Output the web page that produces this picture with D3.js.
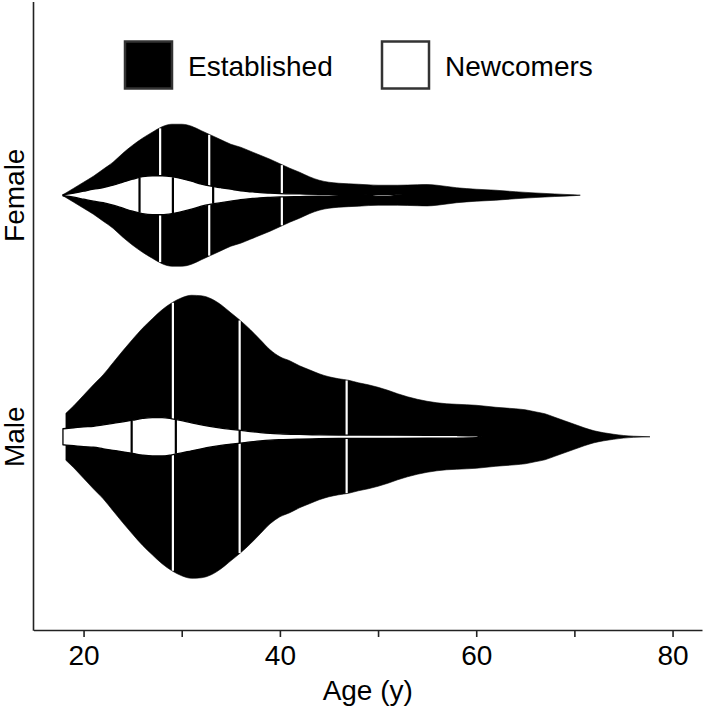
<!DOCTYPE html>
<html>
<head>
<meta charset="utf-8">
<script src="https://cdn.jsdelivr.net/npm/d3@7"></script>
<style>
  html, body { margin: 0; padding: 0; background: #fff; }
  svg { display: block; }
  text { font-family: "Liberation Sans", Arial, Helvetica, sans-serif; fill: #000; }
</style>
</head>
<body>
<svg id="chart" width="705" height="708"></svg>
<script>
// ---------------- DATA ----------------
const categories = ["Female", "Male"];
const groups = ["Established", "Newcomers"];
const xTickValues = [20, 30, 40, 50, 60, 70, 80];
const xTickLabels = ["20", "", "40", "", "60", "", "80"];

// Violin profiles: ages and half-widths (relative density units)
const femaleEstAges  = [17.9, 19, 20, 21, 22, 23, 24, 25, 26, 27, 28, 29, 30, 31, 32, 33, 34, 35, 36, 37, 38, 39, 40, 41, 42, 43, 44, 45, 46, 48, 50, 52, 54, 55, 56, 58, 60, 62, 64, 66, 68, 70, 70.6];
const femaleEstWidth = [0.5, 7, 13, 19, 26, 33, 42, 50, 57, 63, 68.5, 71, 71, 69, 64.5, 60, 55.5, 51, 48, 44, 40, 36, 31.5, 27, 23, 18.5, 15, 13, 12, 11, 10, 10, 10.5, 10.7, 10, 7.5, 6, 5, 3.5, 2.3, 1.3, 0.4, 0];

const femaleNewAges  = [17.9, 19, 20, 21, 22, 23, 24, 25, 26, 27, 28, 29, 30, 31, 32, 33, 34, 35, 36, 37, 38, 39, 40, 42, 44, 46, 48, 49, 50, 51, 52, 53];
const femaleNewWidth = [0.5, 2, 4, 6, 7.5, 10, 13, 16, 18.5, 19.5, 19.5, 18.5, 16.5, 14, 11, 9, 7.5, 6, 4.5, 3.5, 2.6, 2.1, 1.7, 1.3, 1.0, 0.6, 0.3, 0.5, 1.0, 1.0, 0.4, 0];

const maleEstAges  = [18.2, 19, 20, 21, 22, 23, 24, 25, 26, 27, 28, 29, 30, 31, 32, 33, 34, 35, 36, 37, 38, 39, 40, 41, 42, 43, 44, 45, 46, 47, 48, 49, 50, 51, 52, 53, 54, 55, 56, 57, 58, 60, 62, 64, 65, 66, 67, 68, 69, 70, 71, 72, 73, 74, 75, 76, 77.7];
const maleEstWidth = [23.5, 31, 41.5, 52, 62, 74, 86, 97.5, 108.5, 118, 127, 134, 139, 141.5, 141, 138, 132, 124, 116, 107, 97, 87, 80, 76, 71, 67, 63, 60, 58, 56.5, 54, 52, 49.5, 46.5, 43, 40, 37.5, 35.5, 34, 33, 32.5, 31.5, 29.5, 28, 27, 25, 23, 19.5, 16, 12.5, 9, 6, 4, 2.5, 1.3, 0.6, 0];

const maleNewAges  = [17.9, 19, 20, 21, 22, 23, 24, 25, 26, 27, 28, 29, 30, 31, 32, 33, 34, 35, 36, 37, 38, 39, 40, 42, 44, 46, 50, 55, 58, 60, 60.6];
const maleNewWidth = [8, 9, 10, 10.5, 12, 13.5, 15, 16.6, 18.3, 19.2, 19.2, 18, 16.2, 14, 12, 10.2, 8.7, 7.5, 6.4, 5.2, 4.2, 3.4, 2.9, 2.3, 1.9, 1.7, 1.6, 1.5, 1.3, 0.8, 0];

// Quartiles (25%, 50%, 75%)
const femaleEstQuartiles = [27.8, 32.8, 40.2];
const femaleNewQuartiles = [25.7, 29.1, 33.2];
const maleEstQuartiles   = [29.1, 35.9, 46.8];
const maleNewQuartiles   = [24.9, 29.4, 35.9];

// ---------------- CHART ----------------
const svg = d3.select("#chart");
const plotLeft = 33.5, plotRight = 702, plotTop = 2, plotBottom = 630;

const x = d3.scaleLinear().domain([14.9, 83.0]).range([plotLeft, plotRight]);
const y = d3.scalePoint().domain(categories).range([plotTop, plotBottom]).padding(0.8);
const w = d3.scaleLinear().domain([0, 141.5]).range([0, 141.5]);

const violins = [
  { cat: "Female", group: "Established", ages: femaleEstAges, widths: femaleEstWidth, q: femaleEstQuartiles },
  { cat: "Male",   group: "Established", ages: maleEstAges,   widths: maleEstWidth,   q: maleEstQuartiles },
  { cat: "Female", group: "Newcomers",   ages: femaleNewAges, widths: femaleNewWidth, q: femaleNewQuartiles },
  { cat: "Male",   group: "Newcomers",   ages: maleNewAges,   widths: maleNewWidth,   q: maleNewQuartiles }
];

const style = {
  Established: { fill: "#000", stroke: "#000", sw: 0.6, qColor: "#fff" },
  Newcomers:   { fill: "#fff", stroke: "#000", sw: 1.3, qColor: "#000" }
};

function widthAt(ages, widths, a) {
  const i = d3.bisectRight(ages, a);
  if (i <= 0) return widths[0];
  if (i >= ages.length) return widths[widths.length - 1];
  const t = (a - ages[i - 1]) / (ages[i] - ages[i - 1]);
  return widths[i - 1] + t * (widths[i] - widths[i - 1]);
}

const g = svg.append("g");

violins.forEach(v => {
  const cy = y(v.cat);
  const pts = v.ages.map((a, i) => ({ a, h: v.widths[i] }));
  const area = d3.area()
    .x(d => x(d.a))
    .y0(d => cy - w(d.h))
    .y1(d => cy + w(d.h))
    .curve(d3.curveMonotoneX);
  const s = style[v.group];
  g.append("path")
    .attr("d", area(pts))
    .attr("fill", s.fill)
    .attr("stroke", s.stroke)
    .attr("stroke-width", s.sw)
    .attr("stroke-linejoin", "round");
  v.q.forEach(q => {
    const h = w(widthAt(v.ages, v.widths, q));
    const inset = v.group === "Established" ? 0.5 : 0.3;
    g.append("line")
      .attr("x1", x(q)).attr("x2", x(q))
      .attr("y1", cy - h + inset)
      .attr("y2", cy + h - inset)
      .attr("stroke", s.qColor)
      .attr("stroke-width", 2.2);
  });
});

// Axes
const xAxis = d3.axisBottom(x)
  .tickValues(xTickValues)
  .tickFormat((d, i) => xTickLabels[i])
  .tickSize(7)
  .tickSizeOuter(0)
  .tickPadding(8);
const xg = svg.append("g").attr("transform", `translate(0,${plotBottom})`).call(xAxis);
xg.select(".domain").attr("stroke", "#222").attr("stroke-width", 1.6);
xg.selectAll(".tick line").attr("stroke", "#222").attr("stroke-width", 1.6);
xg.selectAll(".tick text")
  .attr("font-size", 28)
  .attr("font-family", "'Liberation Sans', Arial, sans-serif")
  .attr("fill", "#000");

svg.append("line")
  .attr("x1", plotLeft).attr("x2", plotLeft)
  .attr("y1", plotTop).attr("y2", plotBottom + 0.8)
  .attr("stroke", "#222").attr("stroke-width", 1.6);

// Y category labels
categories.forEach(c => {
  svg.append("text")
    .attr("transform", `translate(24,${y(c)}) rotate(-90)`)
    .attr("text-anchor", "middle")
    .attr("font-size", 28)
    .text(c);
});

// X title
svg.append("text")
  .attr("x", (plotLeft + plotRight) / 2)
  .attr("y", 700)
  .attr("text-anchor", "middle")
  .attr("font-size", 28)
  .text("Age (y)");

// Legend
const legendItems = [
  { label: groups[0], x: 125, fill: "#000" },
  { label: groups[1], x: 382, fill: "#fff" }
];
legendItems.forEach(it => {
  svg.append("rect")
    .attr("x", it.x).attr("y", 41.5)
    .attr("width", 47).attr("height", 47)
    .attr("fill", it.fill)
    .attr("stroke", "#333").attr("stroke-width", 2.5);
  svg.append("text")
    .attr("x", it.x + 63).attr("y", 76)
    .attr("font-size", 28)
    .text(it.label);
});
</script>
</body>
</html>
